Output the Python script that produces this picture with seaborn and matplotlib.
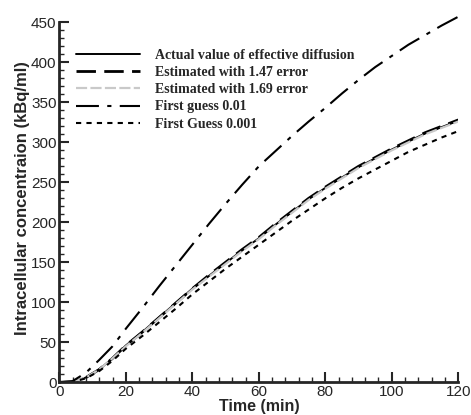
import numpy as np
import pandas as pd
import seaborn as sns
import matplotlib.pyplot as plt
from matplotlib.ticker import MultipleLocator, FixedLocator

# Datos (tiempo en min, concentración en kBq/ml)
tiempo = [0, 4, 8, 12, 16, 20, 25, 30, 35, 40, 45, 50, 55, 60, 65, 70, 75, 80, 85, 90, 95, 100, 105, 110, 115, 120]
actual = [0, 0.5, 6, 16, 30, 46, 63, 81, 99, 117, 133, 149, 165, 180, 197, 213, 229, 243, 256, 269, 280, 291, 301, 311, 319, 327]
est_147 = [0, 0.5, 6, 16, 30, 46, 63, 81, 99, 117, 134, 150, 166, 181, 198, 214, 230, 244, 257, 270, 281, 292, 302, 312, 320, 328]
est_169 = [0, 0.5, 6, 16, 30, 45, 62, 80, 98, 116, 132, 148, 164, 179, 196, 212, 228, 242, 255, 268, 279, 290, 300, 310, 318, 326]
guess_001 = [0, 1.5, 12, 28, 45, 67, 93, 120, 146, 172, 198, 223, 247, 270, 289, 308, 326, 343, 361, 378, 394, 408, 422, 434, 446, 457]
guess_0001 = [0, 0.3, 5, 14, 27, 42, 58, 75, 92, 110, 126, 142, 157, 172, 187, 202, 216, 230, 243, 255, 266, 277, 288, 297, 306, 314]

etiquetas = ['Actual value of effective diffusion', 'Estimated with 1.47 error',
             'Estimated with 1.69 error', 'First guess 0.01', 'First Guess 0.001']

sns.set_style('ticks')
plt.rcParams['font.family'] = ['Liberation Sans', 'DejaVu Sans']

fig = plt.figure(figsize=(4.71, 4.15), dpi=100)
ax = fig.add_axes([0.126, 0.0788, 0.847, 0.8867])

series = [actual, est_147, est_169, guess_001, guess_0001]
estilos = [
    dict(color='black', linewidth=1.4, linestyle='-'),
    dict(color='black', linewidth=2.0, linestyle=(0, (7, 3))),
    dict(color='#c9c9c9', linewidth=1.6, linestyle=(0, (5, 1.5))),
    dict(color='black', linewidth=1.5, linestyle=(0, (11, 4, 2, 4))),
    dict(color='black', linewidth=1.5, linestyle=(0, (2.5, 2.5))),
]
for valores, nombre, est in zip(series, etiquetas, estilos):
    sns.lineplot(x=tiempo, y=valores, ax=ax, label=nombre, **est)

ax.set_xlim(0, 120)
ax.set_ylim(0, 460)
ax.spines['left'].set_bounds(0, 450)
ax.spines['top'].set_visible(False)
ax.spines['right'].set_visible(False)
for s in ['left', 'bottom']:
    ax.spines[s].set_linewidth(2)

ax.xaxis.set_major_locator(MultipleLocator(20))
ax.xaxis.set_minor_locator(MultipleLocator(4))
ax.set_yticks(range(0, 451, 50))
ax.yaxis.set_minor_locator(FixedLocator([v for v in range(10, 450, 10) if v % 50]))
ax.tick_params(which='major', direction='in', length=7, width=1.5, labelsize=11, pad=2)
ax.tick_params(which='minor', direction='in', length=3.5, width=1)

ax.set_xlabel('Time (min)', fontsize=11.5, fontweight='bold', labelpad=0)
ax.set_ylabel('Intracellular concentraion (kBq/ml)', fontsize=12, fontweight='bold', labelpad=1)

ax.legend(loc='upper left', bbox_to_anchor=(0.01, 0.94), frameon=False, handlelength=4.6,
          handletextpad=1.1, labelspacing=0.3,
          prop={'family': 'Liberation Serif', 'weight': 'bold', 'size': 10})

fig.savefig('out.png', dpi=100)
